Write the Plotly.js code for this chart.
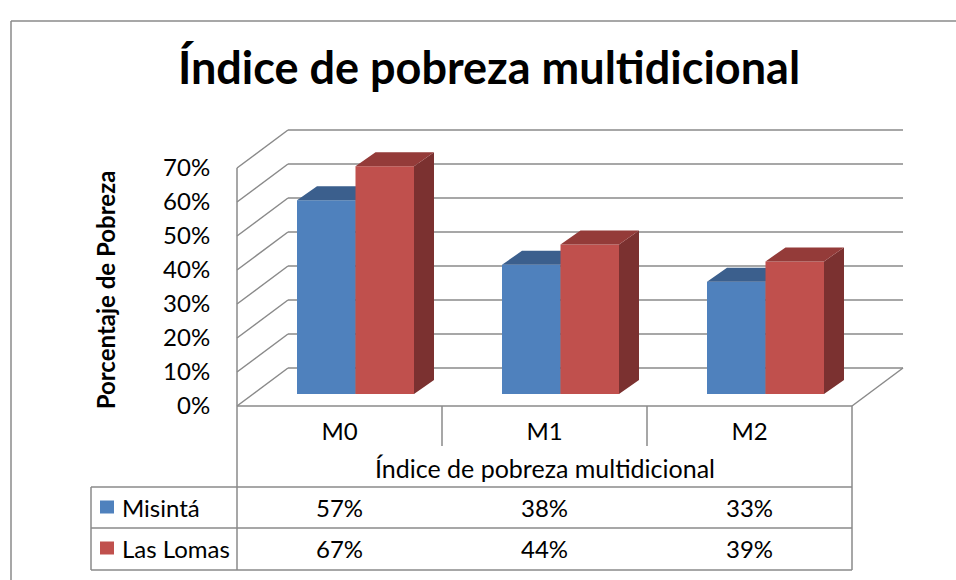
<!DOCTYPE html>
<html>
<head>
<meta charset="utf-8">
<script src="https://cdn.plot.ly/plotly-3.0.1.min.js"></script>
<style>html,body{margin:0;padding:0;background:#fff;}#chart{width:956px;height:580px;}</style>
</head>
<body>
<div id="chart"></div>
<script>
// ---- data ----
const categories = ['M0', 'M1', 'M2'];
const seriesNames = ['Misintá', 'Las Lomas'];
const misinta = [57, 38, 33];
const lasLomas = [67, 44, 39];
const yTickValues = [0, 10, 20, 30, 40, 50, 60, 70];
const yTickLabels = ['0%', '10%', '20%', '30%', '40%', '50%', '60%', '70%'];
const chartTitle = 'Índice de pobreza multidicional';
const xTitle = 'Índice de pobreza multidicional';
const yTitle = 'Porcentaje de Pobreza';

// ---- layout geometry (pixel -> axis units) ----
const W = 956, H = 580;
const X0 = 237, SX = 205;   // px of u=0, px per category
const Y0 = 406, SY = 3.4;   // px of 0%, px per percent
const ux = px => (px - X0) / SX;
const vy = py => (Y0 - py) / SY;

const colors = {
  blue: {front: '#4F81BD', top: '#3B5F8D', side: '#2E4A6E'},
  red:  {front: '#C0504D', top: '#943B39', side: '#7B3130'}
};
const gridColor = '#8a8a8a';
const FONT = 'Lato, "Open Sans", sans-serif';

// depth vectors
const backDX = 51 / SX, backDY = 38 / SY;   // back wall
const planeDX = 16 / SX, planeDY = 12 / SY; // bar front plane
const barW = 58.5 / SX;
const barDX = 20 / SX, barDY = 14 / SY;     // bar depth

function barTraces(vals, name, col, left, xa, ya) {
  const xs = categories.map((c, i) => i + 0.5 + planeDX);
  const off = left ? -barW : 0;
  const front = {
    type: 'bar', name: name, x: xs, y: vals, base: vals.map(() => planeDY),
    width: barW, offset: off, marker: {color: col.front, line: {width: 0}},
    xaxis: xa, yaxis: ya, hoverinfo: 'skip', showlegend: false
  };
  const tx = [], ty = [], sx = [], sy = [];
  vals.forEach((v, i) => {
    const xl = xs[i] + off, xr = xl + barW, h = planeDY + v;
    tx.push(xl, xr, xr + barDX, xl + barDX, xl, null);
    ty.push(h, h, h + barDY, h + barDY, h, null);
    sx.push(xr, xr + barDX, xr + barDX, xr, xr, null);
    sy.push(planeDY, planeDY + barDY, h + barDY, h, planeDY, null);
  });
  const top = {type: 'scatter', mode: 'none', x: tx, y: ty, fill: 'toself', fillcolor: col.top,
    xaxis: xa, yaxis: ya, hoverinfo: 'skip', showlegend: false};
  const side = {type: 'scatter', mode: 'none', x: sx, y: sy, fill: 'toself', fillcolor: col.side,
    xaxis: xa, yaxis: ya, hoverinfo: 'skip', showlegend: false};
  return [front, side, top];
}

const traces = [].concat(
  barTraces(misinta, seriesNames[0], colors.blue, true, 'x', 'y'),
  barTraces(lasLomas, seriesNames[1], colors.red, false, 'x2', 'y2')
);

// ---- shapes: walls, grid, table, frame ----
const shapes = [];
const line = (x0, y0, x1, y1, w) => shapes.push({type: 'line', xref: 'x', yref: 'y', x0, y0, x1, y1,
  layer: 'below', line: {color: gridColor, width: w || 1.5}});

yTickValues.forEach(v => {
  line(0, v, backDX, v + backDY);
  line(backDX, v + backDY, 3 + backDX, v + backDY);
});
const vmax = yTickValues[yTickValues.length - 1];
line(0, 0, 3, 0);
line(3, 0, 3 + backDX, backDY);
line(0, vmax, 0, vy(570));
// table
line(3, 0, 3, vy(570));
line(1, 0, 1, vy(446));
line(2, 0, 2, vy(446));
line(ux(91), vy(487), 3, vy(487));
line(ux(91), vy(528), 3, vy(528));
line(ux(91), vy(570), 3, vy(570));
line(ux(91), vy(487), ux(91), vy(570));
// outer frame
line(ux(11), vy(21), ux(W + 5), vy(21));
line(ux(11), vy(21), ux(11), vy(H + 5));

// legend keys in table
const rowY = [vy(507), vy(548)];
[colors.blue, colors.red].forEach((c, k) => {
  shapes.push({type: 'rect', xref: 'x', yref: 'y', layer: 'above',
    x0: ux(100), x1: ux(114), y0: rowY[k] - 6.5 / SY, y1: rowY[k] + 6.5 / SY,
    fillcolor: c.front, line: {width: 0}});
});

// ---- annotations: table text ----
const annotations = [];
const tfont = {family: FONT, size: 24, color: '#000'};
annotations.push({x: 1.5, y: vy(468), xref: 'x', yref: 'y', text: xTitle, showarrow: false,
  font: {family: FONT, size: 25, color: '#000'}, xanchor: 'center', yanchor: 'middle'});
[misinta, lasLomas].forEach((vals, k) => {
  annotations.push({x: ux(120), y: rowY[k], xref: 'x', yref: 'y', text: seriesNames[k], showarrow: false,
    font: tfont, xanchor: 'left', yanchor: 'middle'});
  vals.forEach((v, i) => annotations.push({x: i + 0.5, y: rowY[k], xref: 'x', yref: 'y',
    text: v + '%', showarrow: false, font: tfont, xanchor: 'center', yanchor: 'middle'}));
});

const xr = [ux(0), ux(W)], yr = [vy(H), vy(0)];
const layout = {
  width: W, height: H,
  margin: {l: 0, r: 0, t: 0, b: 0, pad: 0},
  paper_bgcolor: '#fff', plot_bgcolor: 'rgba(0,0,0,0)',
  showlegend: false,
  title: {text: '<b>' + chartTitle + '</b>', font: {family: FONT, size: 45, color: '#000'},
    x: 489 / W, xanchor: 'center', xref: 'paper', yref: 'container', y: 1 - 68 / H, yanchor: 'middle'},
  xaxis: {range: xr, anchor: 'free', position: (H - Y0) / H, domain: [0, 1],
    tickmode: 'array', tickvals: categories.map((c, i) => i + 0.5), ticktext: categories,
    ticks: 'outside', ticklen: 4, tickcolor: 'rgba(0,0,0,0)', tickfont: tfont,
    showline: false, showgrid: false, zeroline: false, fixedrange: true},
  yaxis: {range: yr, anchor: 'free', position: X0 / W, domain: [0, 1],
    tickmode: 'array', tickvals: yTickValues, ticktext: yTickLabels,
    ticks: 'outside', ticklen: 22, tickcolor: 'rgba(0,0,0,0)', tickfont: tfont,
    showline: false, showgrid: false, zeroline: false, fixedrange: true,
    title: {text: '<b>' + yTitle + '</b>', font: {family: FONT, size: 24, color: '#000'}, standoff: 39}},
  xaxis2: {range: xr, overlaying: 'x', anchor: 'y2', visible: false, fixedrange: true},
  yaxis2: {range: yr, overlaying: 'y', anchor: 'x2', visible: false, fixedrange: true},
  shapes: shapes, annotations: annotations
};

Plotly.newPlot('chart', traces, layout, {displayModeBar: false, staticPlot: true});
</script>
</body>
</html>
